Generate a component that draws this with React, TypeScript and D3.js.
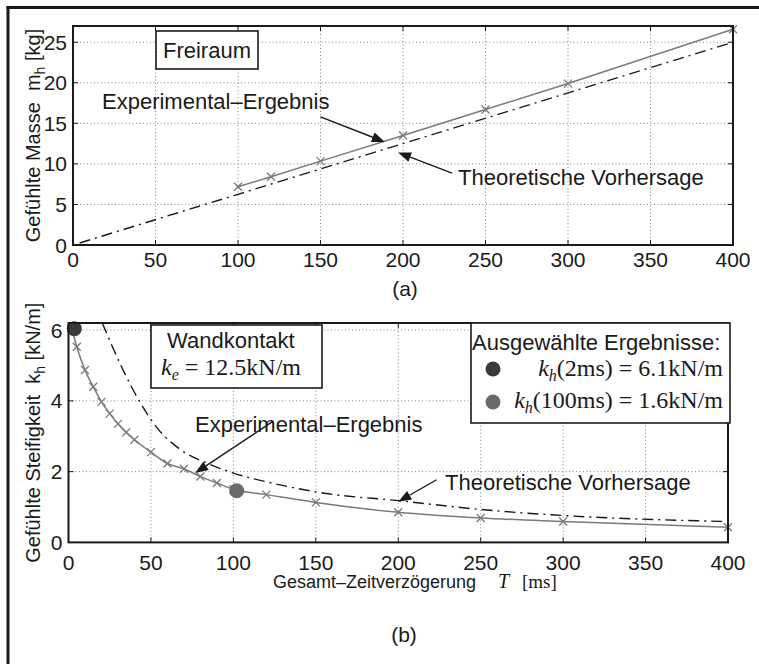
import { useEffect } from "react";
import * as d3 from "d3";

// panel (a): felt mass vs. total delay
const massT = [100, 120, 150, 200, 250, 300, 400];
const massExp = [7.18, 8.41, 10.34, 13.5, 16.7, 19.9, 26.6];
const massTheoT = [4, 100, 200, 300, 400];
const massTheo = [0.25, 6.25, 12.5, 18.75, 25];

// panel (b): felt stiffness vs. total delay
const stiffT = [2, 5, 10, 15, 20, 25, 30, 35, 40, 50, 60, 70, 80, 90, 100, 120, 150, 200, 250, 300, 400];
const stiffExp = [6.04, 5.53, 4.87, 4.4, 3.97, 3.64, 3.35, 3.11, 2.9, 2.55, 2.23, 2.08, 1.86, 1.68, 1.5, 1.35, 1.13, 0.85, 0.69, 0.59, 0.43];
const stiffTheoT = [20.5, 33, 43, 53, 68, 84, 100, 124, 155, 200, 250, 300, 400];
const stiffTheo = [6.2, 4.88, 3.99, 3.28, 2.62, 2.24, 1.96, 1.67, 1.39, 1.18, 0.93, 0.76, 0.59];

// selected results
const selT = [3.5, 102];
const selK = [6.04, 1.46];
const selColors = ["#3a3a3a", "#6a6a6a"];

const xTicks = [0, 50, 100, 150, 200, 250, 300, 350, 400];
const massTicks = [0, 5, 10, 15, 20, 25];
const stiffTicks = [0, 2, 4, 6];

const SANS = "'Liberation Sans', Arial, Helvetica, sans-serif";
const SERIF = "'Liberation Serif', 'Times New Roman', serif";
const INK = "#1a1a1a";
const GRAY = "#7a7a7a";
const DASHDOT = "11,5,2,5";
const NB = "\u00a0";

type Scale = d3.ScaleLinear<number, number>;

const Cross = ({ x, y }: { x: number; y: number }) => (
  <path d={`M${x - 4},${y - 4}L${x + 4},${y + 4}M${x - 4},${y + 4}L${x + 4},${y - 4}`} stroke={GRAY} strokeWidth={1.3} />
);

const Arrow = ({ x1, y1, x2, y2 }: { x1: number; y1: number; x2: number; y2: number }) => {
  const a = Math.atan2(y2 - y1, x2 - x1);
  const L = 13, W = 5;
  const bx = x2 - L * Math.cos(a), by = y2 - L * Math.sin(a);
  const px = -Math.sin(a) * W, py = Math.cos(a) * W;
  return (
    <g>
      <line x1={x1} y1={y1} x2={bx} y2={by} stroke={INK} strokeWidth={1.4} />
      <path d={`M${x2},${y2}L${bx + px},${by + py}L${bx - px},${by - py}Z`} fill={INK} />
    </g>
  );
};

const Frame = ({ x, y, yTicks, tickY }: { x: Scale; y: Scale; yTicks: number[]; tickY: number }) => {
  const [x0, x1] = x.range();
  const [y0, y1] = y.range();
  return (
    <g>
      {xTicks.map((t) => (
        <line key={"gx" + t} x1={x(t)} x2={x(t)} y1={y0} y2={y1} stroke="#777" strokeWidth={0.9} strokeDasharray="1,2.5" />
      ))}
      {yTicks.map((t) => (
        <line key={"gy" + t} x1={x0} x2={x1} y1={y(t)} y2={y(t)} stroke="#777" strokeWidth={0.9} strokeDasharray="1,2.5" />
      ))}
      {xTicks.map((t) => (
        <g key={"tx" + t}>
          <line x1={x(t)} x2={x(t)} y1={y0} y2={y0 - 5} stroke={INK} strokeWidth={1} />
          <line x1={x(t)} x2={x(t)} y1={y1} y2={y1 + 5} stroke={INK} strokeWidth={1} />
          <text x={x(t)} y={tickY} textAnchor="middle" fontSize={21} fill={INK}>{t}</text>
        </g>
      ))}
      {yTicks.map((t) => (
        <g key={"ty" + t}>
          <line x1={x0} x2={x0 + 5} y1={y(t)} y2={y(t)} stroke={INK} strokeWidth={1} />
          <line x1={x1} x2={x1 - 5} y1={y(t)} y2={y(t)} stroke={INK} strokeWidth={1} />
          <text x={x0 - 6} y={y(t)} dy="0.36em" textAnchor="end" fontSize={21} fill={INK}>{t}</text>
        </g>
      ))}
    </g>
  );
};

const Box = ({ x, y }: { x: Scale; y: Scale }) => {
  const [x0, x1] = x.range();
  const [y0, y1] = y.range();
  return <rect x={x0} y={y1} width={x1 - x0} height={y0 - y1} fill="none" stroke={INK} strokeWidth={2} />;
};

// serif math label: italic k with italic subscript, then the rest
const MathK = ({ x, y, sub, rest, anchor = "start" }: { x: number; y: number; sub: string; rest: string; anchor?: string }) => (
  <text x={x} y={y} textAnchor={anchor} fontSize={24} fontFamily={SERIF} fill={INK}>
    <tspan fontStyle="italic">k</tspan>
    <tspan fontStyle="italic" fontSize={16} dy={5}>{sub}</tspan>
    <tspan dy={-5}>{rest}</tspan>
  </text>
);

export default function App() {
  useEffect(() => {
    document.body.style.margin = "0";
  }, []);

  const W = 759, H = 664;

  const xA = d3.scaleLinear().domain([0, 400]).range([73, 733]);
  const yA = d3.scaleLinear().domain([0, 27]).range([245, 26]);
  const xB = d3.scaleLinear().domain([0, 400]).range([68.5, 728]);
  const yB = d3.scaleLinear().domain([0, 6.2]).range([542.4, 323]);

  const lineA = d3.line<[number, number]>().x((d) => xA(d[0])).y((d) => yA(d[1]));
  const lineB = d3.line<[number, number]>().x((d) => xB(d[0])).y((d) => yB(d[1])).curve(d3.curveMonotoneX);

  const massExpPts = massT.map((t, i) => [t, massExp[i]] as [number, number]);
  const massTheoPts = massTheoT.map((t, i) => [t, massTheo[i]] as [number, number]);
  const stiffExpPts = stiffT.map((t, i) => [t, stiffExp[i]] as [number, number]);
  const stiffTheoPts = stiffTheoT.map((t, i) => [t, stiffTheo[i]] as [number, number]);

  return (
    <svg width={W} height={H} viewBox={`0 0 ${W} ${H}`} style={{ display: "block", background: "#fff" }} fontFamily={SANS}>
      {/* outer figure border (cropped: top and left only) */}
      <line x1={6.5} x2={W} y1={7.5} y2={7.5} stroke={INK} strokeWidth={3} />
      <line x1={8} x2={8} y1={6} y2={H} stroke={INK} strokeWidth={3} />

      {/* ---------- panel (a) ---------- */}
      <Frame x={xA} y={yA} yTicks={massTicks} tickY={267} />
      <path d={lineA(massTheoPts) || ""} fill="none" stroke={INK} strokeWidth={1.4} strokeDasharray={DASHDOT} />
      <path d={lineA(massExpPts) || ""} fill="none" stroke={GRAY} strokeWidth={1.5} />
      {massExpPts.map((d, i) => <Cross key={i} x={xA(d[0])} y={yA(d[1])} />)}
      <Box x={xA} y={yA} />

      <rect x={156} y={31} width={102} height={38} fill="#fff" stroke={INK} strokeWidth={1.6} />
      <text x={207} y={58} textAnchor="middle" fontSize={22} fill={INK}>Freiraum</text>

      <text x={102} y={109} fontSize={22} fill={INK}>Experimental–Ergebnis</text>
      <Arrow x1={xA(150)} y1={yA(15.8)} x2={xA(189)} y2={yA(12.7)} />
      <text x={458} y={185} fontSize={22} fill={INK}>Theoretische Vorhersage</text>
      <Arrow x1={xA(229.7)} y1={yA(8.87)} x2={xA(197)} y2={yA(11.4)} />

      <text transform={`translate(40,${(yA(0) + yA(27)) / 2}) rotate(-90)`} textAnchor="middle" fontSize={20} fill={INK}>
        {`Gefühlte Masse${NB}${NB}m`}<tspan fontSize={14} dy={5}>h</tspan><tspan dy={-5}>{`${NB}[kg]`}</tspan>
      </text>
      <text x={405} y={296} textAnchor="middle" fontSize={21} fill={INK}>(a)</text>

      {/* ---------- panel (b) ---------- */}
      <Frame x={xB} y={yB} yTicks={stiffTicks} tickY={570} />
      <path d={lineB(stiffTheoPts) || ""} fill="none" stroke={INK} strokeWidth={1.4} strokeDasharray={DASHDOT} />
      <path d={lineB(stiffExpPts) || ""} fill="none" stroke={GRAY} strokeWidth={1.5} />
      {stiffExpPts.map((d, i) => <Cross key={i} x={xB(d[0])} y={yB(d[1])} />)}
      {selT.map((t, i) => <circle key={i} cx={xB(t)} cy={yB(selK[i])} r={7.5} fill={selColors[i]} />)}
      <Box x={xB} y={yB} />

      <rect x={151} y={325} width={171} height={63} fill="#fff" stroke={INK} strokeWidth={1.6} />
      <text x={167} y={348} fontSize={22} fill={INK}>Wandkontakt</text>
      <MathK x={161} y={375} sub="e" rest={`${NB}=${NB}12.5kN/m`} />

      <rect x={471} y={323} width={259} height={100} fill="#fff" stroke={INK} strokeWidth={1.6} />
      <text x={472} y={350} fontSize={22} fill={INK}>Ausgewählte Ergebnisse:</text>
      <circle cx={493} cy={369} r={7.5} fill={selColors[0]} />
      <MathK x={723} y={376} sub="h" rest={`(2ms)${NB}=${NB}6.1kN/m`} anchor="end" />
      <circle cx={493} cy={402} r={7.5} fill={selColors[1]} />
      <MathK x={723} y={408} sub="h" rest={`(100ms)${NB}=${NB}1.6kN/m`} anchor="end" />

      <text x={195} y={432} fontSize={22} fill={INK}>Experimental–Ergebnis</text>
      <Arrow x1={xB(124)} y1={yB(3.42)} x2={xB(76.8)} y2={yB(1.96)} />
      <text x={445} y={490} fontSize={22} fill={INK}>Theoretische Vorhersage</text>
      <Arrow x1={xB(223.3)} y1={yB(1.77)} x2={xB(200)} y2={yB(1.15)} />

      <text transform={`translate(40,${(yB(0) + yB(6.2)) / 2}) rotate(-90)`} textAnchor="middle" fontSize={20} fill={INK}>
        {`Gefühlte Steifigkeit${NB}${NB}k`}<tspan fontSize={14} dy={5}>h</tspan><tspan dy={-5}>{`${NB}[kN/m]`}</tspan>
      </text>
      <text y={588} fill={INK}>
        <tspan x={273} fontSize={18}>Gesamt–Zeitverzögerung</tspan>
        <tspan x={498} fontSize={20} fontFamily={SERIF} fontStyle="italic">T</tspan>
        <tspan x={522} fontSize={19} fontFamily={SERIF}>[ms]</tspan>
      </text>
      <text x={404} y={642} textAnchor="middle" fontSize={21} fill={INK}>(b)</text>
    </svg>
  );
}
